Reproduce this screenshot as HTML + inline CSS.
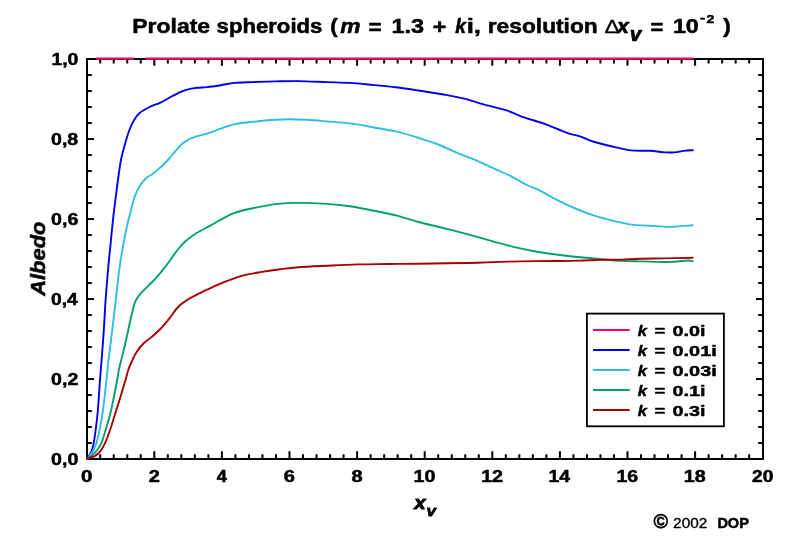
<!DOCTYPE html>
<html><head><meta charset="utf-8"><style>
html,body{margin:0;padding:0;background:#fff;}
svg{display:block;}
</style></head><body>
<svg width="786" height="545" viewBox="0 0 786 545">
<rect width="786" height="545" fill="#fff"/>
<path d="M87,59 V459 H763 V59 Z" fill="none" stroke="#000" stroke-width="2"/>
<path d="M100.22,454.2 V459 M100.22,59 V63.5 M113.74,454.2 V459 M113.74,59 V63.5 M127.26,454.2 V459 M127.26,59 V63.5 M140.78,454.2 V459 M140.78,59 V63.5 M154.30,451.2 V459 M154.30,59 V65.8 M167.82,454.2 V459 M167.82,59 V63.5 M181.34,454.2 V459 M181.34,59 V63.5 M194.86,454.2 V459 M194.86,59 V63.5 M208.38,454.2 V459 M208.38,59 V63.5 M221.90,451.2 V459 M221.90,59 V65.8 M235.42,454.2 V459 M235.42,59 V63.5 M248.94,454.2 V459 M248.94,59 V63.5 M262.46,454.2 V459 M262.46,59 V63.5 M275.98,454.2 V459 M275.98,59 V63.5 M289.50,451.2 V459 M289.50,59 V65.8 M303.02,454.2 V459 M303.02,59 V63.5 M316.54,454.2 V459 M316.54,59 V63.5 M330.06,454.2 V459 M330.06,59 V63.5 M343.58,454.2 V459 M343.58,59 V63.5 M357.10,451.2 V459 M357.10,59 V65.8 M370.62,454.2 V459 M370.62,59 V63.5 M384.14,454.2 V459 M384.14,59 V63.5 M397.66,454.2 V459 M397.66,59 V63.5 M411.18,454.2 V459 M411.18,59 V63.5 M424.70,451.2 V459 M424.70,59 V65.8 M438.22,454.2 V459 M438.22,59 V63.5 M451.74,454.2 V459 M451.74,59 V63.5 M465.26,454.2 V459 M465.26,59 V63.5 M478.78,454.2 V459 M478.78,59 V63.5 M492.30,451.2 V459 M492.30,59 V65.8 M505.82,454.2 V459 M505.82,59 V63.5 M519.34,454.2 V459 M519.34,59 V63.5 M532.86,454.2 V459 M532.86,59 V63.5 M546.38,454.2 V459 M546.38,59 V63.5 M559.90,451.2 V459 M559.90,59 V65.8 M573.42,454.2 V459 M573.42,59 V63.5 M586.94,454.2 V459 M586.94,59 V63.5 M600.46,454.2 V459 M600.46,59 V63.5 M613.98,454.2 V459 M613.98,59 V63.5 M627.50,451.2 V459 M627.50,59 V65.8 M641.02,454.2 V459 M641.02,59 V63.5 M654.54,454.2 V459 M654.54,59 V63.5 M668.06,454.2 V459 M668.06,59 V63.5 M681.58,454.2 V459 M681.58,59 V63.5 M695.10,451.2 V459 M695.10,59 V65.8 M708.62,454.2 V459 M708.62,59 V63.5 M722.14,454.2 V459 M722.14,59 V63.5 M735.66,454.2 V459 M735.66,59 V63.5 M749.18,454.2 V459 M749.18,59 V63.5 M87,443.00 H91.8 M763,443.00 H758.2 M87,427.00 H91.8 M763,427.00 H758.2 M87,411.00 H91.8 M763,411.00 H758.2 M87,395.00 H91.8 M763,395.00 H758.2 M87,379.00 H94 M763,379.00 H756 M87,363.00 H91.8 M763,363.00 H758.2 M87,347.00 H91.8 M763,347.00 H758.2 M87,331.00 H91.8 M763,331.00 H758.2 M87,315.00 H91.8 M763,315.00 H758.2 M87,299.00 H94 M763,299.00 H756 M87,283.00 H91.8 M763,283.00 H758.2 M87,267.00 H91.8 M763,267.00 H758.2 M87,251.00 H91.8 M763,251.00 H758.2 M87,235.00 H91.8 M763,235.00 H758.2 M87,219.00 H94 M763,219.00 H756 M87,203.00 H91.8 M763,203.00 H758.2 M87,187.00 H91.8 M763,187.00 H758.2 M87,171.00 H91.8 M763,171.00 H758.2 M87,155.00 H91.8 M763,155.00 H758.2 M87,139.00 H94 M763,139.00 H756 M87,123.00 H91.8 M763,123.00 H758.2 M87,107.00 H91.8 M763,107.00 H758.2 M87,91.00 H91.8 M763,91.00 H758.2 M87,75.00 H91.8 M763,75.00 H758.2" fill="none" stroke="#000" stroke-width="2"/>
<path d="M96,58.7 H134 M145.5,58.7 H693.5" fill="none" stroke="#FF0066" stroke-width="2.3"/>
<g fill="none" stroke-width="1.9" stroke-linejoin="round" stroke-linecap="round">
<path d="M87.00,459.00 C87.22,458.63 87.55,458.08 88.30,456.80 C89.05,455.52 90.58,453.67 91.50,451.30 C92.42,448.93 93.03,446.73 93.80,442.60 C94.57,438.47 95.42,431.93 96.10,426.50 C96.78,421.07 97.25,417.75 97.90,410.00 C98.55,402.25 99.40,388.17 100.00,380.00 C100.60,371.83 100.87,369.25 101.50,361.00 C102.13,352.75 103.12,340.67 103.80,330.50 C104.48,320.33 104.83,310.78 105.60,300.00 C106.37,289.22 107.55,275.32 108.40,265.80 C109.25,256.28 110.12,248.83 110.70,242.90 C111.28,236.97 111.38,235.23 111.90,230.20 C112.42,225.17 113.10,218.68 113.80,212.70 C114.50,206.72 115.32,200.42 116.10,194.30 C116.88,188.18 117.67,181.82 118.50,176.00 C119.33,170.18 120.05,164.62 121.10,159.40 C122.15,154.18 123.42,149.60 124.80,144.70 C126.18,139.80 127.87,134.08 129.40,130.00 C130.93,125.92 132.30,123.03 134.00,120.20 C135.70,117.37 137.02,115.20 139.60,113.00 C142.18,110.80 146.02,108.73 149.50,107.00 C152.98,105.27 157.02,104.25 160.50,102.60 C163.98,100.95 167.15,98.85 170.40,97.10 C173.65,95.35 177.37,93.32 180.00,92.10 C182.63,90.88 183.38,90.52 186.20,89.80 C189.02,89.08 193.43,88.25 196.90,87.80 C200.37,87.35 203.03,87.53 207.00,87.10 C210.97,86.67 216.12,85.90 220.70,85.20 C225.28,84.50 229.15,83.42 234.50,82.90 C239.85,82.38 245.93,82.35 252.80,82.10 C259.67,81.85 268.07,81.57 275.70,81.40 C283.33,81.23 290.05,80.98 298.60,81.10 C307.15,81.22 318.45,81.80 327.00,82.10 C335.55,82.40 342.27,82.43 349.90,82.90 C357.53,83.37 365.17,84.18 372.80,84.90 C380.43,85.62 388.07,86.27 395.70,87.20 C403.33,88.13 410.05,89.18 418.60,90.50 C427.15,91.82 439.22,93.70 447.00,95.10 C454.78,96.50 459.20,97.37 465.30,98.90 C471.40,100.43 476.73,102.38 483.60,104.30 C490.47,106.22 499.62,108.17 506.50,110.40 C513.38,112.63 518.78,115.53 524.90,117.70 C531.02,119.87 536.18,120.87 543.20,123.40 C550.22,125.93 560.75,130.70 567.00,132.90 C573.25,135.10 576.12,135.08 580.70,136.60 C585.28,138.12 589.15,140.33 594.50,142.00 C599.85,143.67 606.70,145.20 612.80,146.60 C618.90,148.00 625.00,149.70 631.10,150.40 C637.20,151.10 643.68,150.47 649.40,150.80 C655.12,151.13 661.20,152.13 665.40,152.40 C669.60,152.67 671.53,152.65 674.60,152.40 C677.67,152.15 680.75,151.27 683.80,150.90 C686.85,150.53 691.38,150.32 692.90,150.20" stroke="#0000EE" />
<path d="M87.00,459.00 C87.37,458.55 88.22,457.58 89.20,456.30 C90.18,455.02 91.67,453.58 92.90,451.30 C94.13,449.02 95.38,446.73 96.60,442.60 C97.82,438.47 99.13,431.93 100.20,426.50 C101.27,421.07 101.95,417.75 103.00,410.00 C104.05,402.25 105.60,388.17 106.50,380.00 C107.40,371.83 107.45,369.25 108.40,361.00 C109.35,352.75 110.97,340.67 112.20,330.50 C113.43,320.33 114.92,307.73 115.80,300.00 C116.68,292.27 116.83,289.80 117.50,284.10 C118.17,278.40 118.78,272.67 119.80,265.80 C120.82,258.93 122.17,250.53 123.60,242.90 C125.03,235.27 127.32,224.82 128.40,220.00 C129.48,215.18 129.43,216.60 130.10,214.00 C130.77,211.40 131.48,207.67 132.40,204.40 C133.32,201.13 134.30,197.60 135.60,194.40 C136.90,191.20 138.37,187.97 140.20,185.20 C142.03,182.43 144.47,179.72 146.60,177.80 C148.73,175.88 151.02,175.15 153.00,173.70 C154.98,172.25 156.75,170.63 158.50,169.10 C160.25,167.57 161.70,166.27 163.50,164.50 C165.30,162.73 167.30,160.75 169.30,158.50 C171.30,156.25 173.35,153.45 175.50,151.00 C177.65,148.55 180.12,145.67 182.20,143.80 C184.28,141.93 185.87,140.97 188.00,139.80 C190.13,138.63 191.83,137.83 195.00,136.80 C198.17,135.77 202.72,134.95 207.00,133.60 C211.28,132.25 216.12,130.28 220.70,128.70 C225.28,127.12 229.15,125.25 234.50,124.10 C239.85,122.95 245.93,122.52 252.80,121.80 C259.67,121.08 269.60,120.23 275.70,119.80 C281.80,119.37 284.32,119.20 289.40,119.20 C294.48,119.20 299.93,119.43 306.20,119.80 C312.47,120.17 319.72,120.80 327.00,121.40 C334.28,122.00 342.27,122.43 349.90,123.40 C357.53,124.37 365.17,125.87 372.80,127.20 C380.43,128.53 387.83,129.55 395.70,131.40 C403.57,133.25 412.90,136.12 420.00,138.30 C427.10,140.48 432.20,142.12 438.30,144.50 C444.40,146.88 450.48,150.05 456.60,152.60 C462.72,155.15 468.88,157.20 475.00,159.80 C481.12,162.40 487.20,165.40 493.30,168.20 C499.40,171.00 506.00,173.80 511.60,176.60 C517.20,179.40 522.17,182.65 526.90,185.00 C531.63,187.35 534.77,188.10 540.00,190.70 C545.23,193.30 552.20,197.55 558.30,200.60 C564.40,203.65 570.48,206.45 576.60,209.00 C582.72,211.55 588.88,213.92 595.00,215.90 C601.12,217.88 607.20,219.45 613.30,220.90 C619.40,222.35 625.58,223.80 631.60,224.60 C637.62,225.40 643.25,225.32 649.40,225.70 C655.55,226.08 663.12,226.83 668.50,226.90 C673.88,226.97 677.67,226.37 681.70,226.10 C685.73,225.83 690.87,225.43 692.70,225.30" stroke="#30BEE0" />
<path d="M87.00,459.00 C87.75,458.48 89.98,457.18 91.50,455.90 C93.02,454.62 94.42,453.52 96.10,451.30 C97.78,449.08 99.85,446.73 101.60,442.60 C103.35,438.47 105.00,431.93 106.60,426.50 C108.20,421.07 109.43,417.75 111.20,410.00 C112.97,402.25 115.88,386.88 117.20,380.00 C118.52,373.12 118.15,373.13 119.10,368.70 C120.05,364.27 121.50,359.25 122.90,353.40 C124.30,347.55 126.43,338.33 127.50,333.60 C128.57,328.87 128.23,329.65 129.30,325.00 C130.37,320.35 132.62,310.12 133.90,305.70 C135.18,301.28 135.78,300.63 137.00,298.50 C138.22,296.37 139.28,295.05 141.20,292.90 C143.12,290.75 146.05,288.05 148.50,285.60 C150.95,283.15 153.15,281.27 155.90,278.20 C158.65,275.13 161.95,271.17 165.00,267.20 C168.05,263.23 171.70,257.77 174.20,254.40 C176.70,251.03 178.17,249.15 180.00,247.00 C181.83,244.85 182.50,243.78 185.20,241.50 C187.90,239.22 192.07,235.90 196.20,233.30 C200.33,230.70 206.17,228.03 210.00,225.90 C213.83,223.77 215.12,222.68 219.20,220.50 C223.28,218.32 228.90,214.85 234.50,212.80 C240.10,210.75 245.93,209.65 252.80,208.20 C259.67,206.75 268.07,204.98 275.70,204.10 C283.33,203.22 290.05,202.93 298.60,202.90 C307.15,202.87 318.45,203.33 327.00,203.90 C335.55,204.47 342.27,205.20 349.90,206.30 C357.53,207.40 365.17,208.98 372.80,210.50 C380.43,212.02 388.07,213.48 395.70,215.40 C403.33,217.32 410.05,219.75 418.60,222.00 C427.15,224.25 438.45,226.75 447.00,228.90 C455.55,231.05 462.27,232.83 469.90,234.90 C477.53,236.97 485.17,239.22 492.80,241.30 C500.43,243.38 508.07,245.62 515.70,247.40 C523.33,249.18 531.22,250.73 538.60,252.00 C545.98,253.27 553.03,254.12 560.00,255.00 C566.97,255.88 573.62,256.62 580.40,257.30 C587.18,257.98 593.92,258.50 600.70,259.10 C607.48,259.70 614.22,260.52 621.10,260.90 C627.98,261.28 634.10,261.22 642.00,261.40 C649.90,261.58 660.92,262.15 668.50,262.00 C676.08,261.85 683.47,260.60 687.50,260.50 C691.53,260.40 691.83,261.25 692.70,261.40" stroke="#00A070" />
<path d="M87.00,459.00 C87.30,458.78 87.58,458.15 88.80,457.70 C90.02,457.25 92.40,457.37 94.30,456.30 C96.20,455.23 98.37,453.58 100.20,451.30 C102.03,449.02 103.47,446.73 105.30,442.60 C107.13,438.47 109.37,431.93 111.20,426.50 C113.03,421.07 115.07,413.92 116.30,410.00 C117.53,406.08 117.07,408.00 118.60,403.00 C120.13,398.00 123.90,385.47 125.50,380.00 C127.10,374.53 127.12,373.37 128.20,370.20 C129.28,367.03 130.60,364.05 132.00,361.00 C133.40,357.95 134.68,354.82 136.60,351.90 C138.52,348.98 141.08,345.92 143.50,343.50 C145.92,341.08 148.30,339.82 151.10,337.40 C153.90,334.98 157.25,332.18 160.30,329.00 C163.35,325.82 166.35,322.05 169.40,318.30 C172.45,314.55 175.33,309.75 178.60,306.50 C181.87,303.25 185.45,301.02 189.00,298.80 C192.55,296.58 196.90,294.72 199.90,293.20 C202.90,291.68 202.77,291.62 207.00,289.70 C211.23,287.78 219.20,284.08 225.30,281.70 C231.40,279.32 237.48,277.03 243.60,275.40 C249.72,273.77 255.88,272.93 262.00,271.90 C268.12,270.87 274.20,269.98 280.30,269.20 C286.40,268.42 290.82,267.78 298.60,267.20 C306.38,266.62 317.18,266.17 327.00,265.70 C336.82,265.23 347.32,264.68 357.50,264.40 C367.68,264.12 377.92,264.12 388.10,264.00 C398.28,263.88 408.78,263.82 418.60,263.70 C428.42,263.58 437.18,263.47 447.00,263.30 C456.82,263.13 467.32,262.98 477.50,262.70 C487.68,262.42 497.92,261.87 508.10,261.60 C518.28,261.33 529.95,261.20 538.60,261.10 C547.25,261.00 553.03,261.08 560.00,261.00 C566.97,260.92 573.62,260.80 580.40,260.60 C587.18,260.40 593.92,259.97 600.70,259.80 C607.48,259.63 614.55,259.77 621.10,259.60 C627.65,259.43 632.85,259.00 640.00,258.80 C647.15,258.60 655.22,258.58 664.00,258.40 C672.78,258.22 687.92,257.82 692.70,257.70" stroke="#A80000" />
</g>
<rect x="586.9" y="313.6" width="137" height="112.7" fill="#fff" stroke="#000" stroke-width="1.8"/>
<path d="M593,330 H629.7" stroke="#FF0066" stroke-width="2"/><path d="M593,350 H629.7" stroke="#0000EE" stroke-width="2"/><path d="M593,370 H629.7" stroke="#30BEE0" stroke-width="2"/><path d="M593,390 H629.7" stroke="#00A070" stroke-width="2"/><path d="M593,410 H629.7" stroke="#A80000" stroke-width="2"/>
<g fill="#000" style="opacity:0.999">
<text transform="matrix(1.14761,0.00000,0.00000,1.00652,132.31193,32.69664)" style="font-size:20px;font-family:'Liberation Sans',sans-serif;font-weight:bold;" stroke="#000" stroke-width="0.51065" stroke-linejoin="round">Prolate</text>
<text transform="matrix(1.10729,0.00000,0.00000,0.97197,216.58166,32.89566)" style="font-size:20px;font-family:'Liberation Sans',sans-serif;font-weight:bold;" stroke="#000" stroke-width="0.52903" stroke-linejoin="round">spheroids</text>
<text transform="matrix(1.11747,0.00000,0.00000,0.97693,330.30576,32.61620)" style="font-size:20px;font-family:'Liberation Sans',sans-serif;font-weight:bold;" stroke="#000" stroke-width="0.52521" stroke-linejoin="round">(</text>
<text transform="matrix(1.13971,0.00000,0.00000,1.01325,340.29892,32.74657)" style="font-size:20px;font-family:'Liberation Sans',sans-serif;font-weight:bold;font-style:italic;" stroke="#000" stroke-width="0.51092" stroke-linejoin="round">m</text>
<text transform="matrix(1.12683,0.00000,0.00000,1.01411,368.54099,33.55455)" style="font-size:20px;font-family:'Liberation Sans',sans-serif;font-weight:bold;" stroke="#000" stroke-width="0.51379" stroke-linejoin="round">=</text>
<text transform="matrix(1.17535,0.00000,0.00000,0.99568,391.48685,32.69018)" style="font-size:20px;font-family:'Liberation Sans',sans-serif;font-weight:bold;" stroke="#000" stroke-width="0.50667" stroke-linejoin="round">1.3</text>
<text transform="matrix(1.17131,0.00000,0.00000,1.03499,432.70541,34.22529)" style="font-size:20px;font-family:'Liberation Sans',sans-serif;font-weight:bold;" stroke="#000" stroke-width="0.49857" stroke-linejoin="round">+</text>
<text transform="matrix(0.96087,0.00000,0.00000,1.01034,455.29065,32.72500)" style="font-size:20px;font-family:'Liberation Sans',sans-serif;font-weight:bold;font-style:italic;" stroke="#000" stroke-width="0.55803" stroke-linejoin="round">k</text>
<text transform="matrix(1.29167,0.00000,0.00000,0.99716,466.66667,32.83381)" style="font-size:20px;font-family:'Liberation Sans',sans-serif;font-weight:bold;" stroke="#000" stroke-width="0.48060" stroke-linejoin="round">i,</text>
<text transform="matrix(1.13974,0.00000,0.00000,0.98299,487.69333,32.52840)" style="font-size:20px;font-family:'Liberation Sans',sans-serif;font-weight:bold;" stroke="#000" stroke-width="0.51820" stroke-linejoin="round">resolution</text>
<text transform="matrix(1.14262,0.00000,0.00000,0.95280,604.42649,33.14794)" style="font-size:20px;font-family:'Liberation Sans',sans-serif;" stroke="#000" stroke-width="0.33406" stroke-linejoin="round">&#916;</text>
<text transform="matrix(1.06800,0.00000,0.00000,0.98585,617.02940,32.82500)" style="font-size:20px;font-family:'Liberation Sans',sans-serif;font-weight:bold;font-style:italic;" stroke="#000" stroke-width="0.73034" stroke-linejoin="round">x</text>
<text transform="matrix(1.03211,0.00000,0.00000,0.99528,629.73968,40.52500)" style="font-size:20px;font-family:'Liberation Sans',sans-serif;font-weight:bold;font-style:italic;" stroke="#000" stroke-width="0.73987" stroke-linejoin="round">v</text>
<text transform="matrix(1.09915,0.00000,0.00000,0.97990,650.57960,33.67534)" style="font-size:20px;font-family:'Liberation Sans',sans-serif;font-weight:bold;" stroke="#000" stroke-width="0.52909" stroke-linejoin="round">=</text>
<text transform="matrix(1.16692,0.00000,0.00000,0.97173,672.87879,32.52497)" style="font-size:20px;font-family:'Liberation Sans',sans-serif;font-weight:bold;" stroke="#000" stroke-width="0.51434" stroke-linejoin="round">10</text>
<text transform="matrix(0.77947,0.00000,0.00000,0.50940,700.10378,21.31239)" style="font-size:20px;font-family:'Liberation Sans',sans-serif;font-weight:bold;" stroke="#000" stroke-width="0.85346" stroke-linejoin="round">-</text>
<text transform="matrix(0.70321,0.00000,0.00000,0.56751,706.39668,23.35794)" style="font-size:20px;font-family:'Liberation Sans',sans-serif;font-weight:bold;" stroke="#000" stroke-width="0.86566" stroke-linejoin="round">2</text>
<text transform="matrix(1.13393,0.00000,0.00000,0.97059,723.16161,32.54853)" style="font-size:20px;font-family:'Liberation Sans',sans-serif;font-weight:bold;" stroke="#000" stroke-width="0.52269" stroke-linejoin="round">)</text>
<text transform="matrix(0.00000,-1.09623,1.02560,0.00000,45.57085,295.84043)" style="font-size:20px;font-family:'Liberation Sans',sans-serif;font-weight:bold;font-style:italic;" stroke="#000" stroke-width="0.51842" stroke-linejoin="round">Albedo</text>
<text transform="matrix(1.02822,0.00000,0.00000,0.94119,414.14267,508.95833)" style="font-size:20px;font-family:'Liberation Sans',sans-serif;font-weight:bold;font-style:italic;" stroke="#000" stroke-width="0.96475" stroke-linejoin="round">x</text>
<text transform="matrix(0.84731,0.00000,0.00000,0.77018,426.61855,516.46196)" style="font-size:20px;font-family:'Liberation Sans',sans-serif;font-weight:bold;font-style:italic;" stroke="#000" stroke-width="0.98919" stroke-linejoin="round">v</text>
<text transform="matrix(0.99506,0.00000,0.00000,0.97325,653.44236,527.95858)" style="font-size:20px;font-family:'Liberation Sans',sans-serif;font-weight:bold;" stroke="#000" stroke-width="0.55885" stroke-linejoin="round">&#169;</text>
<text transform="matrix(0.76719,0.00000,0.00000,0.68790,673.12036,527.75899)" style="font-size:20px;font-family:'Liberation Sans',sans-serif;" stroke="#000" stroke-width="0.48107" stroke-linejoin="round">2002</text>
<text transform="matrix(0.72676,0.00000,0.00000,0.68985,717.38256,527.75997)" style="font-size:20px;font-family:'Liberation Sans',sans-serif;font-weight:bold;" stroke="#000" stroke-width="0.77650" stroke-linejoin="round">DOP</text>
<text transform="matrix(0.97159,0.00000,0.00000,0.78569,51.42880,64.65309)" style="font-size:20px;font-family:'Liberation Sans',sans-serif;font-weight:bold;" stroke="#000" stroke-width="0.62597" stroke-linejoin="round">1,0</text>
<text transform="matrix(0.97955,0.00000,0.00000,0.81980,50.99449,144.64479)" style="font-size:20px;font-family:'Liberation Sans',sans-serif;font-weight:bold;" stroke="#000" stroke-width="0.61133" stroke-linejoin="round">0,8</text>
<text transform="matrix(0.98328,0.00000,0.00000,0.82157,50.98603,224.63931)" style="font-size:20px;font-family:'Liberation Sans',sans-serif;font-weight:bold;" stroke="#000" stroke-width="0.60947" stroke-linejoin="round">0,6</text>
<text transform="matrix(0.95951,0.00000,0.00000,0.81162,51.02151,304.70036)" style="font-size:20px;font-family:'Liberation Sans',sans-serif;font-weight:bold;" stroke="#000" stroke-width="0.62107" stroke-linejoin="round">0,4</text>
<text transform="matrix(0.97875,0.00000,0.00000,0.83818,51.11729,384.63859)" style="font-size:20px;font-family:'Liberation Sans',sans-serif;font-weight:bold;" stroke="#000" stroke-width="0.60541" stroke-linejoin="round">0,2</text>
<text transform="matrix(0.98074,0.00000,0.00000,0.83883,51.11570,464.63935)" style="font-size:20px;font-family:'Liberation Sans',sans-serif;font-weight:bold;" stroke="#000" stroke-width="0.60454" stroke-linejoin="round">0,0</text>
<text transform="matrix(1.02698,0.00000,0.00000,0.82956,80.92205,482.18968)" style="font-size:20px;font-family:'Liberation Sans',sans-serif;font-weight:bold;" stroke="#000" stroke-width="0.59250" stroke-linejoin="round">0</text>
<text transform="matrix(1.00313,0.00000,0.00000,0.83887,148.74301,482.33363)" style="font-size:20px;font-family:'Liberation Sans',sans-serif;font-weight:bold;" stroke="#000" stroke-width="0.59718" stroke-linejoin="round">2</text>
<text transform="matrix(0.91257,0.00000,0.00000,0.84008,216.68358,481.94657)" style="font-size:20px;font-family:'Liberation Sans',sans-serif;font-weight:bold;" stroke="#000" stroke-width="0.62762" stroke-linejoin="round">4</text>
<text transform="matrix(1.00156,0.00000,0.00000,0.83072,283.75744,482.18670)" style="font-size:20px;font-family:'Liberation Sans',sans-serif;font-weight:bold;" stroke="#000" stroke-width="0.60034" stroke-linejoin="round">6</text>
<text transform="matrix(1.00156,0.00000,0.00000,0.79612,351.45210,482.28421)" style="font-size:20px;font-family:'Liberation Sans',sans-serif;font-weight:bold;" stroke="#000" stroke-width="0.61190" stroke-linejoin="round">8</text>
<text transform="matrix(0.98520,0.00000,0.00000,0.81642,413.50149,482.48329)" style="font-size:20px;font-family:'Liberation Sans',sans-serif;font-weight:bold;" stroke="#000" stroke-width="0.61056" stroke-linejoin="round">10</text>
<text transform="matrix(0.98848,0.00000,0.00000,0.79828,481.13841,482.43794)" style="font-size:20px;font-family:'Liberation Sans',sans-serif;font-weight:bold;" stroke="#000" stroke-width="0.61564" stroke-linejoin="round">12</text>
<text transform="matrix(0.96577,0.00000,0.00000,0.80985,548.54009,482.43794)" style="font-size:20px;font-family:'Liberation Sans',sans-serif;font-weight:bold;" stroke="#000" stroke-width="0.61950" stroke-linejoin="round">14</text>
<text transform="matrix(0.97312,0.00000,0.00000,0.82164,616.39818,482.16930)" style="font-size:20px;font-family:'Liberation Sans',sans-serif;font-weight:bold;" stroke="#000" stroke-width="0.61290" stroke-linejoin="round">16</text>
<text transform="matrix(0.98469,0.00000,0.00000,0.81642,683.82255,482.48329)" style="font-size:20px;font-family:'Liberation Sans',sans-serif;font-weight:bold;" stroke="#000" stroke-width="0.61073" stroke-linejoin="round">18</text>
<text transform="matrix(0.95930,0.00000,0.00000,0.79477,752.06408,482.27899)" style="font-size:20px;font-family:'Liberation Sans',sans-serif;font-weight:bold;" stroke="#000" stroke-width="0.62712" stroke-linejoin="round">20</text>
<text transform="matrix(0.82390,0.00000,0.00000,0.76680,637.75642,335.54931)" style="font-size:20px;font-family:'Liberation Sans',sans-serif;font-weight:bold;font-style:italic;" stroke="#000" stroke-width="0.69152" stroke-linejoin="round">k</text>
<text transform="matrix(0.92066,0.00000,0.00000,0.74742,654.43455,336.33997)" style="font-size:20px;font-family:'Liberation Sans',sans-serif;font-weight:bold;" stroke="#000" stroke-width="0.65944" stroke-linejoin="round">=</text>
<text transform="matrix(0.98745,0.00000,0.00000,0.76824,672.44680,336.24292)" style="font-size:20px;font-family:'Liberation Sans',sans-serif;font-weight:bold;" stroke="#000" stroke-width="0.62653" stroke-linejoin="round">0.0i</text>
<text transform="matrix(0.82390,0.00000,0.00000,0.76680,637.75642,355.54931)" style="font-size:20px;font-family:'Liberation Sans',sans-serif;font-weight:bold;font-style:italic;" stroke="#000" stroke-width="0.69152" stroke-linejoin="round">k</text>
<text transform="matrix(0.92066,0.00000,0.00000,0.74742,654.43455,356.33997)" style="font-size:20px;font-family:'Liberation Sans',sans-serif;font-weight:bold;" stroke="#000" stroke-width="0.65944" stroke-linejoin="round">=</text>
<text transform="matrix(0.99414,0.00000,0.00000,0.76824,672.54302,356.24292)" style="font-size:20px;font-family:'Liberation Sans',sans-serif;font-weight:bold;" stroke="#000" stroke-width="0.62416" stroke-linejoin="round">0.01i</text>
<text transform="matrix(0.82390,0.00000,0.00000,0.76680,637.75642,375.54931)" style="font-size:20px;font-family:'Liberation Sans',sans-serif;font-weight:bold;font-style:italic;" stroke="#000" stroke-width="0.69152" stroke-linejoin="round">k</text>
<text transform="matrix(0.92066,0.00000,0.00000,0.74742,654.43455,376.33997)" style="font-size:20px;font-family:'Liberation Sans',sans-serif;font-weight:bold;" stroke="#000" stroke-width="0.65944" stroke-linejoin="round">=</text>
<text transform="matrix(0.99414,0.00000,0.00000,0.76824,672.54302,376.24292)" style="font-size:20px;font-family:'Liberation Sans',sans-serif;font-weight:bold;" stroke="#000" stroke-width="0.62416" stroke-linejoin="round">0.03i</text>
<text transform="matrix(0.82390,0.00000,0.00000,0.76680,637.75642,395.54931)" style="font-size:20px;font-family:'Liberation Sans',sans-serif;font-weight:bold;font-style:italic;" stroke="#000" stroke-width="0.69152" stroke-linejoin="round">k</text>
<text transform="matrix(0.92066,0.00000,0.00000,0.74742,654.43455,396.33997)" style="font-size:20px;font-family:'Liberation Sans',sans-serif;font-weight:bold;" stroke="#000" stroke-width="0.65944" stroke-linejoin="round">=</text>
<text transform="matrix(0.98745,0.00000,0.00000,0.76824,672.44680,396.24292)" style="font-size:20px;font-family:'Liberation Sans',sans-serif;font-weight:bold;" stroke="#000" stroke-width="0.62653" stroke-linejoin="round">0.1i</text>
<text transform="matrix(0.82390,0.00000,0.00000,0.76680,637.75642,415.54931)" style="font-size:20px;font-family:'Liberation Sans',sans-serif;font-weight:bold;font-style:italic;" stroke="#000" stroke-width="0.69152" stroke-linejoin="round">k</text>
<text transform="matrix(0.92066,0.00000,0.00000,0.74742,654.43455,416.33997)" style="font-size:20px;font-family:'Liberation Sans',sans-serif;font-weight:bold;" stroke="#000" stroke-width="0.65944" stroke-linejoin="round">=</text>
<text transform="matrix(0.98745,0.00000,0.00000,0.76824,672.44680,416.24292)" style="font-size:20px;font-family:'Liberation Sans',sans-serif;font-weight:bold;" stroke="#000" stroke-width="0.62653" stroke-linejoin="round">0.3i</text>
</g>
</svg>
</body></html>
